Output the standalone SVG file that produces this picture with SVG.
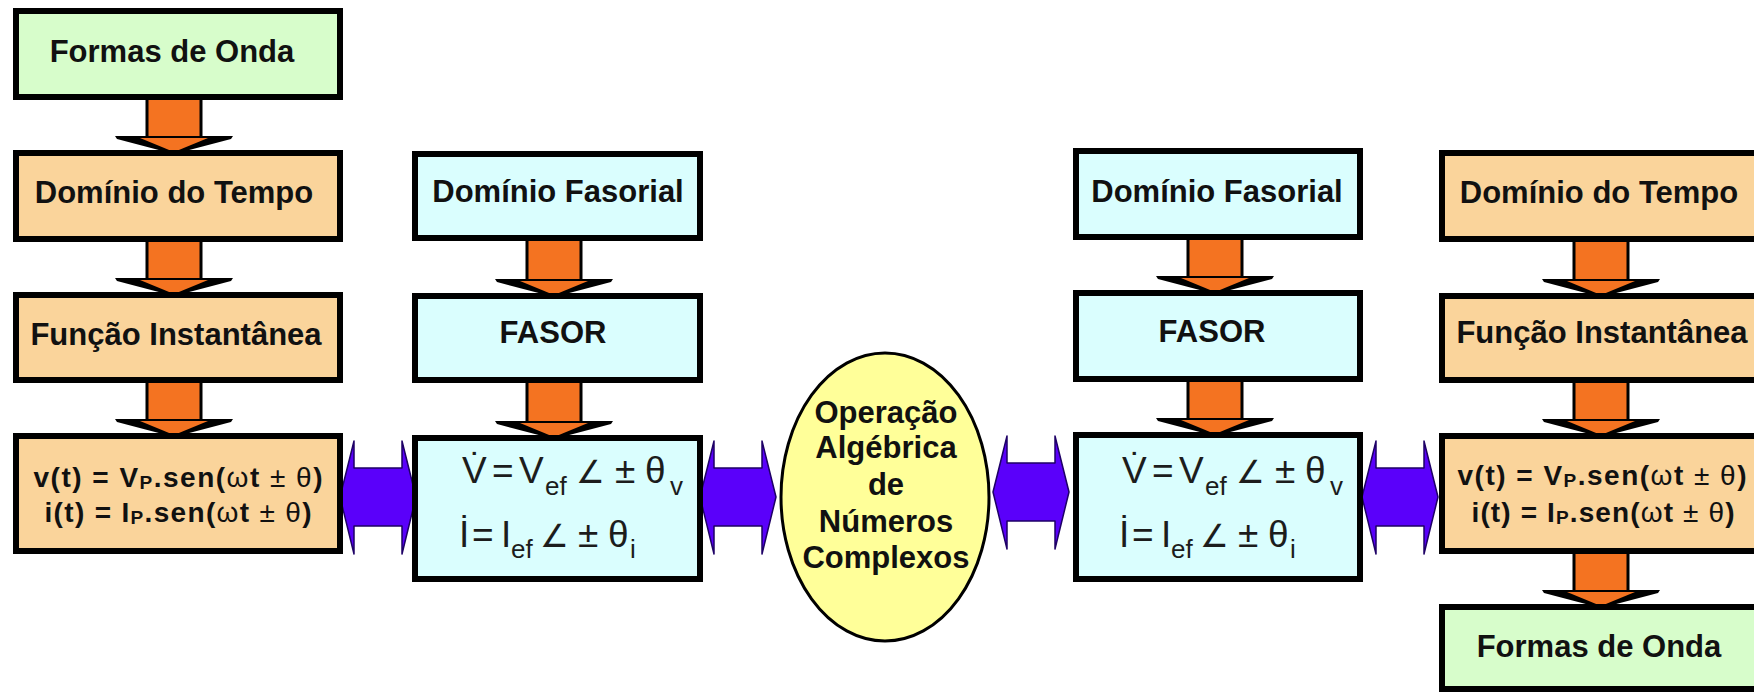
<svg xmlns="http://www.w3.org/2000/svg" xmlns:xlink="http://www.w3.org/1999/xlink" width="1754" height="694" viewBox="0 0 1754 694">
  <style>
    .box { stroke: #000; stroke-width: 6; }
    .green { fill: #D7FDCB; }
    .tan { fill: #FAD49B; }
    .cyan { fill: #DAFEFE; }
    .oval { fill: #FFFF99; stroke: #000; stroke-width: 3; }
    .lbl { font-family: "Liberation Sans", Arial, sans-serif; font-weight: bold; font-size: 31px; fill: #111; text-anchor: middle; }
    .eq { font-size: 28px; }
    .sym { font-weight: normal; }
    .small { font-size: 19px; }
    .ph { font-family: "Liberation Sans", "DejaVu Sans", Arial, sans-serif; font-size: 37px; fill: #1c1c1c; }
    .sub { font-size: 26px; }
    .ang { font-size: 32px; }
    .shaft { fill: #F47321; stroke: #000; stroke-width: 3; }
    .head { fill: #F47321; }
    .wing { fill: #000; }
    .link { fill: #5A00FA; stroke: #1E0066; stroke-width: 1.5; stroke-linejoin: round; }
  </style>
  <defs>
    <!-- downward block arrow; origin = top edge of the box it points at -->
    <g id="down-arrow">
      <rect class="shaft" x="-27" y="-62" width="54" height="50"/>
      <polygon class="wing" points="-59,-14 59,-14 57,-11 0,4 -57,-11"/>
      <polygon class="head" points="-34,-12 34,-12 0,2"/>
    </g>
    <!-- horizontal double-headed block arrow; origin = left tip -->
    <polygon id="both-arrow" class="link" points="0,0 14,-56 14,-29 62,-29 62,-56 76,0 62,57 62,29 14,29 14,57"/>
  </defs>

  <g id="connectors">
    <!-- time-domain chain, left -->
    <use xlink:href="#down-arrow" x="174" y="150"/>
    <use xlink:href="#down-arrow" x="174" y="292"/>
    <use xlink:href="#down-arrow" x="174" y="433"/>
    <!-- phasor chain, left -->
    <use xlink:href="#down-arrow" x="554" y="293"/>
    <use xlink:href="#down-arrow" x="554" y="435"/>
    <!-- phasor chain, right -->
    <use xlink:href="#down-arrow" x="1215" y="290"/>
    <use xlink:href="#down-arrow" x="1215" y="432"/>
    <!-- time-domain chain, right -->
    <use xlink:href="#down-arrow" x="1601" y="293"/>
    <use xlink:href="#down-arrow" x="1601" y="433"/>
    <use xlink:href="#down-arrow" x="1601" y="604"/>
    <!-- conversions between domains -->
    <use xlink:href="#both-arrow" x="340" y="497"/>
    <use xlink:href="#both-arrow" x="700" y="497"/>
    <use xlink:href="#both-arrow" x="993" y="492"/>
    <use xlink:href="#both-arrow" x="1362" y="497"/>
  </g>

  <g id="ondas-1">
    <rect class="box green" x="16" y="11" width="324" height="86"/>
    <text class="lbl" x="172" y="62">Formas de Onda</text>
  </g>
  <g id="tempo-1">
    <rect class="box tan" x="16" y="153" width="324" height="86"/>
    <text class="lbl" x="174" y="203">Domínio do Tempo</text>
  </g>
  <g id="funcao-1">
    <rect class="box tan" x="16" y="295" width="324" height="85"/>
    <text class="lbl" x="176" y="345">Função Instantânea</text>
  </g>
  <g id="instantanea-1">
    <rect class="box tan" x="16" y="436" width="324" height="115"/>
    <text class="lbl eq" x="178" y="487" textLength="289">v(t) = V<tspan class="small" dy="2">P</tspan><tspan dy="-2">.sen(</tspan><tspan class="sym">ω</tspan>t <tspan class="sym">±</tspan> <tspan class="sym">θ</tspan>)</text>
    <text class="lbl eq" x="178" y="522" textLength="267">i(t) = I<tspan class="small" dy="2">P</tspan><tspan dy="-2">.sen(</tspan><tspan class="sym">ω</tspan>t <tspan class="sym">±</tspan> <tspan class="sym">θ</tspan>)</text>
  </g>

  <g id="fasorial-1">
    <rect class="box cyan" x="415" y="154" width="285" height="84"/>
    <text class="lbl" x="558" y="202">Domínio Fasorial</text>
  </g>
  <g id="fasor-1">
    <rect class="box cyan" x="415" y="296" width="285" height="84"/>
    <text class="lbl" x="553" y="343">FASOR</text>
  </g>
  <g id="fasores-1">
    <rect class="box cyan" x="415" y="438" width="285" height="141"/>
    <text class="ph" y="483"><tspan x="462">V̇</tspan><tspan x="492">=</tspan><tspan x="519">V</tspan><tspan class="sub" x="545" y="495">ef</tspan><tspan class="ang" x="576" y="483">∠</tspan><tspan x="615">±</tspan><tspan x="645">θ</tspan><tspan class="sub" x="670" y="495">v</tspan></text>
    <text class="ph" y="547"><tspan x="459">İ</tspan><tspan x="472">=</tspan><tspan x="501">I</tspan><tspan class="sub" x="511" y="558">ef</tspan><tspan class="ang" x="540" y="547">∠</tspan><tspan x="578">±</tspan><tspan x="608">θ</tspan><tspan class="sub" x="630" y="558">i</tspan></text>
  </g>

  <g id="operacao">
    <ellipse class="oval" cx="885" cy="497" rx="104" ry="144"/>
    <text class="lbl" x="886" y="423">Operação</text>
    <text class="lbl" x="886" y="458">Algébrica</text>
    <text class="lbl" x="886" y="495">de</text>
    <text class="lbl" x="886" y="532">Números</text>
    <text class="lbl" x="886" y="568">Complexos</text>
  </g>

  <g id="fasorial-2">
    <rect class="box cyan" x="1076" y="151" width="284" height="86"/>
    <text class="lbl" x="1217" y="202">Domínio Fasorial</text>
  </g>
  <g id="fasor-2">
    <rect class="box cyan" x="1076" y="293" width="284" height="86"/>
    <text class="lbl" x="1212" y="342">FASOR</text>
  </g>
  <g id="fasores-2">
    <rect class="box cyan" x="1076" y="435" width="284" height="144"/>
    <text class="ph" y="483"><tspan x="1122">V̇</tspan><tspan x="1152">=</tspan><tspan x="1179">V</tspan><tspan class="sub" x="1205" y="495">ef</tspan><tspan class="ang" x="1236" y="483">∠</tspan><tspan x="1275">±</tspan><tspan x="1305">θ</tspan><tspan class="sub" x="1330" y="495">v</tspan></text>
    <text class="ph" y="547"><tspan x="1119">İ</tspan><tspan x="1132">=</tspan><tspan x="1161">I</tspan><tspan class="sub" x="1171" y="558">ef</tspan><tspan class="ang" x="1200" y="547">∠</tspan><tspan x="1238">±</tspan><tspan x="1268">θ</tspan><tspan class="sub" x="1290" y="558">i</tspan></text>
  </g>

  <g id="tempo-2">
    <rect class="box tan" x="1442" y="153" width="330" height="86"/>
    <text class="lbl" x="1599" y="203">Domínio do Tempo</text>
  </g>
  <g id="funcao-2">
    <rect class="box tan" x="1442" y="296" width="330" height="84"/>
    <text class="lbl" x="1602" y="343">Função Instantânea</text>
  </g>
  <g id="instantanea-2">
    <rect class="box tan" x="1442" y="436" width="330" height="115"/>
    <text class="lbl eq" x="1602" y="485" textLength="289">v(t) = V<tspan class="small" dy="2">P</tspan><tspan dy="-2">.sen(</tspan><tspan class="sym">ω</tspan>t <tspan class="sym">±</tspan> <tspan class="sym">θ</tspan>)</text>
    <text class="lbl eq" x="1603" y="522" textLength="263">i(t) = I<tspan class="small" dy="2">P</tspan><tspan dy="-2">.sen(</tspan><tspan class="sym">ω</tspan>t <tspan class="sym">±</tspan> <tspan class="sym">θ</tspan>)</text>
  </g>
  <g id="ondas-2">
    <rect class="box green" x="1442" y="607" width="330" height="82"/>
    <text class="lbl" x="1599" y="657">Formas de Onda</text>
  </g>
</svg>
